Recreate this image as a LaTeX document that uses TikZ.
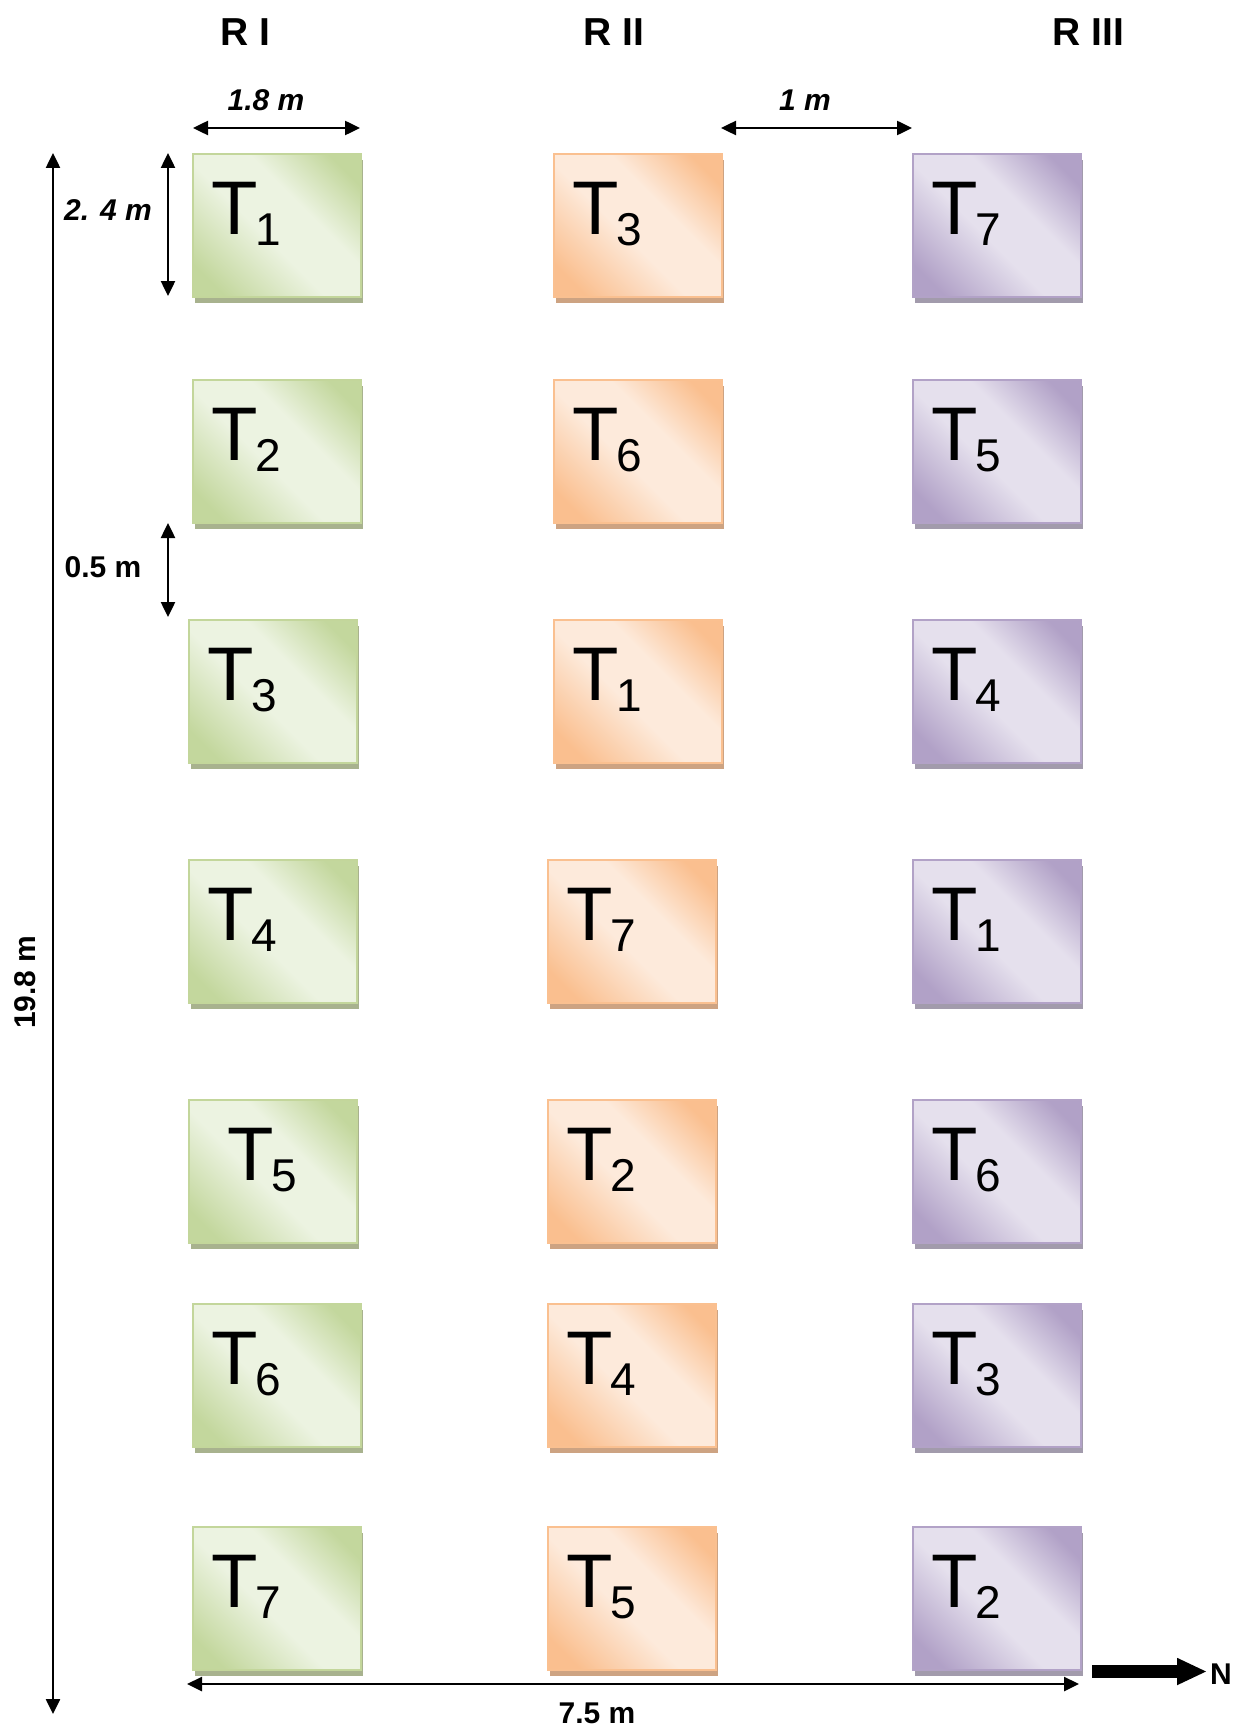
\documentclass[tikz,border=0pt]{standalone}
\usepackage{fontspec}
\setmainfont{Liberation Sans}
\usetikzlibrary{arrows.meta,shadows}

\definecolor{gdark}{RGB}{195,215,157}
\definecolor{glight}{RGB}{236,243,225}
\definecolor{gborder}{RGB}{195,214,155}
\definecolor{gshadow}{RGB}{168,178,142}
\definecolor{odark}{RGB}{250,191,143}
\definecolor{olight}{RGB}{253,234,219}
\definecolor{oborder}{RGB}{250,192,144}
\definecolor{oshadow}{RGB}{205,163,130}
\definecolor{pdark}{RGB}{177,161,199}
\definecolor{plight}{RGB}{229,224,237}
\definecolor{pborder}{RGB}{178,162,199}
\definecolor{pshadow}{RGB}{162,155,172}

\pgfdeclarehorizontalshading{gshade}{100bp}{color(0bp)=(gdark); color(22bp)=(gdark); color(45bp)=(glight); color(60bp)=(glight); color(78bp)=(gdark); color(100bp)=(gdark)}
\pgfdeclarehorizontalshading{oshade}{100bp}{color(0bp)=(odark); color(22bp)=(odark); color(45bp)=(olight); color(60bp)=(olight); color(78bp)=(odark); color(100bp)=(odark)}
\pgfdeclarehorizontalshading{pshade}{100bp}{color(0bp)=(pdark); color(22bp)=(pdark); color(45bp)=(plight); color(60bp)=(plight); color(78bp)=(pdark); color(100bp)=(pdark)}

\newcommand{\tsubscr}[1]{{\fontsize{46pt}{46pt}\selectfont\kern-2pt\raisebox{-11pt}{#1}}}

\tikzset{
  plotbox/.style={rectangle, anchor=north west, minimum width=168pt, minimum height=143pt,
    inner sep=0pt, line width=2pt, draw=#1border, shading=#1shade, shading angle=45,
    drop shadow={shadow xshift=2pt, shadow yshift=-6pt, fill=#1shadow, opacity=1}},
  tlabel/.style={anchor=base west, inner sep=0pt, font=\fontsize{76pt}{80pt}\selectfont},
  dimarrow/.style={line width=2.5pt, {Triangle[length=15pt,width=14pt]}-{Triangle[length=15pt,width=14pt]}},
  dimlabel/.style={anchor=base, inner sep=0pt, font=\fontsize{30pt}{34pt}\selectfont\bfseries},
  replabel/.style={anchor=base, inner sep=0pt, font=\fontsize{39pt}{42pt}\selectfont\bfseries},
}

\begin{document}
\begin{tikzpicture}[x=1pt,y=-1pt]
\useasboundingbox[fill=white] (0,0) rectangle (1251,1731);

% plots
\foreach \nm/\x/\y/\c/\n/\dx in {
  a1/192/153/g/1/19, a2/192/379/g/2/19, a3/188/619/g/3/19, a4/188/859/g/4/19,
  a5/188/1099/g/5/39, a6/192/1303/g/6/19, a7/192/1526/g/7/19,
  b1/553/153/o/3/19, b2/553/379/o/6/19, b3/553/619/o/1/19, b4/547/859/o/7/19,
  b5/547/1099/o/2/19, b6/547/1303/o/4/19, b7/547/1526/o/5/19,
  c1/912/153/p/7/19, c2/912/379/p/5/19, c3/912/619/p/4/19, c4/912/859/p/1/19,
  c5/912/1099/p/6/19, c6/912/1303/p/3/19, c7/912/1526/p/2/19} {
  \node[plotbox=\c] (\nm) at (\x,\y) {};
  \node[tlabel] (\nm t) at ([xshift=\dx pt, yshift=-81pt]\nm.north west) {T\tsubscr{\n}};
}

% replicate headings
\node[replabel] (r1) at (245.5,46) {R I};
\node[replabel] (r2) at (614,46) {R II};
\node[replabel] (r3) at (1088.5,46) {R III};

% plot width
\coordinate (w1) at (193,128);
\coordinate (w2) at (360,128);
\draw[dimarrow] (w1) -- (w2);
\node[dimlabel, font=\fontsize{30pt}{34pt}\selectfont\bfseries\itshape] (lw) at (266,110.7) {1.8 m};

% gap between replicates
\coordinate (g1) at (721,128);
\coordinate (g2) at (912,128);
\draw[dimarrow] (g1) -- (g2);
\node[dimlabel, font=\fontsize{30pt}{34pt}\selectfont\bfseries\itshape] (lg) at (805,110.7) {1 m};

% plot length
\coordinate (h1) at (168,153);
\coordinate (h2) at (168,296);
\draw[dimarrow] (h1) -- (h2);
\node[dimlabel, font=\fontsize{30pt}{34pt}\selectfont\bfseries\itshape] (lh) at (108,220) {2. 4 m};

% gap between plots
\coordinate (s1) at (168,523);
\coordinate (s2) at (168,617);
\draw[dimarrow] (s1) -- (s2);
\node[dimlabel] (ls) at (103,577) {0.5 m};

% total length
\coordinate (L1) at (53,153);
\coordinate (L2) at (53,1714);
\draw[dimarrow] (L1) -- (L2);
\node[dimlabel, anchor=center, rotate=90] (lL) at (25,982) {19.8 m};

% total width
\coordinate (W1) at (187,1684);
\coordinate (W2) at (1079,1684);
\draw[dimarrow] (W1) -- (W2);
\node[dimlabel] (lW) at (597,1723) {7.5 m};

% north arrow
\coordinate (n1) at (1092,1671.5);
\coordinate (n2) at (1207,1671.5);
\draw[line width=13pt, -{Triangle[length=30pt,width=25pt]}] (n1) -- (n2);
\node[dimlabel, anchor=base west] (lN) at (1210,1684.3) {N};
\end{tikzpicture}
\end{document}
